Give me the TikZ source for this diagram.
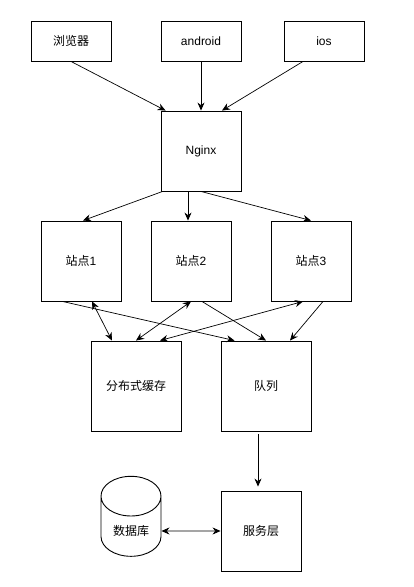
\documentclass[tikz,border=0pt]{standalone}
\usepackage{fontspec}
\setmainfont{Liberation Sans}
\newfontfamily\cjk{Noto Sans CJK SC}
\usetikzlibrary{arrows.meta, shapes.geometric}

\begin{document}
\begin{tikzpicture}[
  x=1pt, y=-1pt,
  box/.style={rectangle, draw, line width=0.9pt, minimum width=80pt,
              minimum height=80pt, align=center,
              font=\fontsize{12}{14}\selectfont},
  client/.style={box, minimum height=40pt},
  bigbox/.style={box, minimum width=90pt, minimum height=90pt},
  store/.style={cylinder, draw, line width=0.9pt, shape border rotate=90,
                aspect=0.93, minimum width=60pt, minimum height=80pt,
                font=\fontsize{12}{14}\selectfont},
  arrow/.style={-{Stealth[length=8pt, width=7pt]}, line width=0.7pt},
  biarrow/.style={{Stealth[length=8pt, width=7pt]}-{Stealth[length=8pt, width=7pt]},
                  line width=0.7pt},
]
\useasboundingbox (0,0) rectangle (413,587);

% ---- 客户端 ----
\node[client] (cl-browser) at (71,41)  {\cjk 浏览器};
\node[client] (cl-android) at (201,41) {android};
\node[client] (cl-ios)     at (324,41) {ios};

% ---- 接入层 ----
\node[box] (nginx) at (201,151) {Nginx};

% ---- 站点 ----
\node[box] (site-1) at (81,261)  {{\cjk 站点}1};
\node[box] (site-2) at (191,261) {{\cjk 站点}2};
\node[box] (site-3) at (311,261) {{\cjk 站点}3};

% ---- 中间件 ----
\node[bigbox] (cache) at (136,386) {\cjk 分布式缓存};
\node[bigbox] (queue) at (266,386) {\cjk 队列};

% ---- 后端 ----
\node[client, minimum height=80pt] (service) at (261,531) {\cjk 服务层};
\node[store] (db) at (131,531) {\cjk 数据库};

% ---- 连线 ----
\draw[arrow] (cl-browser.south) -- ([xshift=5pt]nginx.north west);
\draw[arrow] (cl-android) -- (nginx);
\draw[arrow] ([xshift=-21pt]cl-ios.south) -- ([xshift=21pt]nginx.north);

\draw[arrow] ([xshift=2pt]nginx.south west) -- ([xshift=2pt]site-1.north);
\draw[arrow] ([xshift=-13pt]nginx.south) -- ([xshift=-3pt]site-2.north);
\draw[arrow] (nginx.south) -- (site-3.north);

\draw[arrow]   ([xshift=22pt]site-1.south west) -- ([xshift=14pt]queue.north west);
\draw[biarrow] ([xshift=11pt]site-1.south) -- ([xshift=-24pt]cache.north);
\draw[biarrow] (site-2.south) -- (cache.north);
\draw[arrow]   ([xshift=11pt]site-2.south) -- (queue.north);
\draw[biarrow] ([xshift=-8pt]site-3.south) -- ([xshift=24pt]cache.north);
\draw[arrow]   ([xshift=12pt]site-3.south) -- ([xshift=24pt]queue.north);

\draw[arrow, shorten <=3pt, shorten >=4pt] ([xshift=-8pt]queue.south) -- ([xshift=-3pt]service.north);
\draw[biarrow] (db.east) -- (service.west);

\end{tikzpicture}
\end{document}
